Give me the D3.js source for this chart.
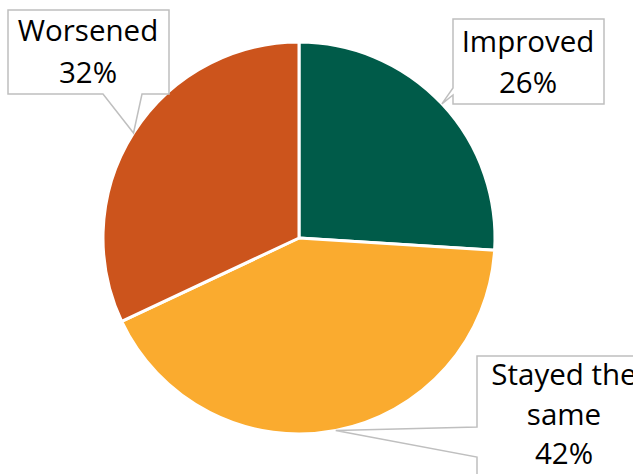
<!DOCTYPE html>
<html>
<head>
<meta charset="utf-8">
<script src="https://cdn.jsdelivr.net/npm/d3@7/dist/d3.min.js"></script>
<style>
  html, body { margin: 0; padding: 0; background: #fff; }
  svg { display: block; }
</style>
</head>
<body>
<svg id="chart" width="633" height="474"></svg>
<script>
// Share of respondents by outcome
const categories = ["Improved", "Stayed the same", "Worsened"];
const values = [26, 42, 32];
const colors = ["#005B49", "#FAAB2F", "#CC541C"];
// Label lines per slice (category text; the value line is appended)
const labelLines = [["Improved"], ["Stayed the", "same"], ["Worsened"]];

const W = 633, H = 474;
const cx = 299, cy = 238, R = 196;

const svg = d3.select("#chart");
const g = svg.append("g").attr("transform", `translate(${cx},${cy})`);

const pie = d3.pie().sort(null).value(d => d)(values);
const arc = d3.arc().innerRadius(0).outerRadius(R);

g.selectAll("path.slice")
  .data(pie)
  .join("path")
  .attr("class", "slice")
  .attr("d", arc)
  .attr("fill", (d, i) => colors[i])
  .attr("stroke", "#fff")
  .attr("stroke-width", 3)
  .attr("stroke-linejoin", "round");

// Callout boxes: rectangle plus a pointer wedge reaching the slice edge at mid-angle
const boxes = [
  { x: 453, y: 19, w: 151, h: 85, side: "left", p0: 88, p1: 95, lineH: 41, firstBase: 52, tx: 528 },
  { x: 477, y: 356, w: 172, h: 140, side: "left", p0: 427, p1: 457, lineH: 39.5, firstBase: 385, tx: 564 },
  { x: 8, y: 10, w: 161, h: 84, side: "bottom", p0: 103, p1: 142, lineH: 42, firstBase: 41, tx: 88 }
];

function tipPoint(d) {
  const a = (d.startAngle + d.endAngle) / 2;
  return [cx + R * Math.sin(a), cy - R * Math.cos(a)];
}

function calloutPath(b, tip) {
  const x0 = b.x, y0 = b.y, x1 = b.x + b.w, y1 = b.y + b.h;
  const p = d3.path();
  if (b.side === "left") {
    p.moveTo(x0, y0);
    p.lineTo(x1, y0);
    p.lineTo(x1, y1);
    p.lineTo(x0, y1);
    p.lineTo(x0, b.p1);
    p.lineTo(tip[0], tip[1]);
    p.lineTo(x0, b.p0);
    p.closePath();
  } else {
    p.moveTo(x0, y0);
    p.lineTo(x1, y0);
    p.lineTo(x1, y1);
    p.lineTo(b.p1, y1);
    p.lineTo(tip[0], tip[1]);
    p.lineTo(b.p0, y1);
    p.lineTo(x0, y1);
    p.closePath();
  }
  return p.toString();
}

const labels = svg.append("g");
pie.forEach((d, i) => {
  const b = boxes[i];
  const tip = tipPoint(d);
  labels.append("path")
    .attr("d", calloutPath(b, tip))
    .attr("fill", "#fff")
    .attr("stroke", "#BFBFBF")
    .attr("stroke-width", 1.5)
    .attr("stroke-linejoin", "miter");
  const lines = labelLines[i].concat([`${values[i]}%`]);
  const t = labels.append("text")
    .attr("text-anchor", "middle")
    .attr("font-family", "'Open Sans', 'Noto Sans', sans-serif")
    .attr("font-size", 29.5)
    .attr("fill", "#000");
  lines.forEach((ln, k) => {
    t.append("tspan")
      .attr("x", b.tx)
      .attr("y", b.firstBase + k * b.lineH)
      .text(ln);
  });
});
</script>
</body>
</html>
